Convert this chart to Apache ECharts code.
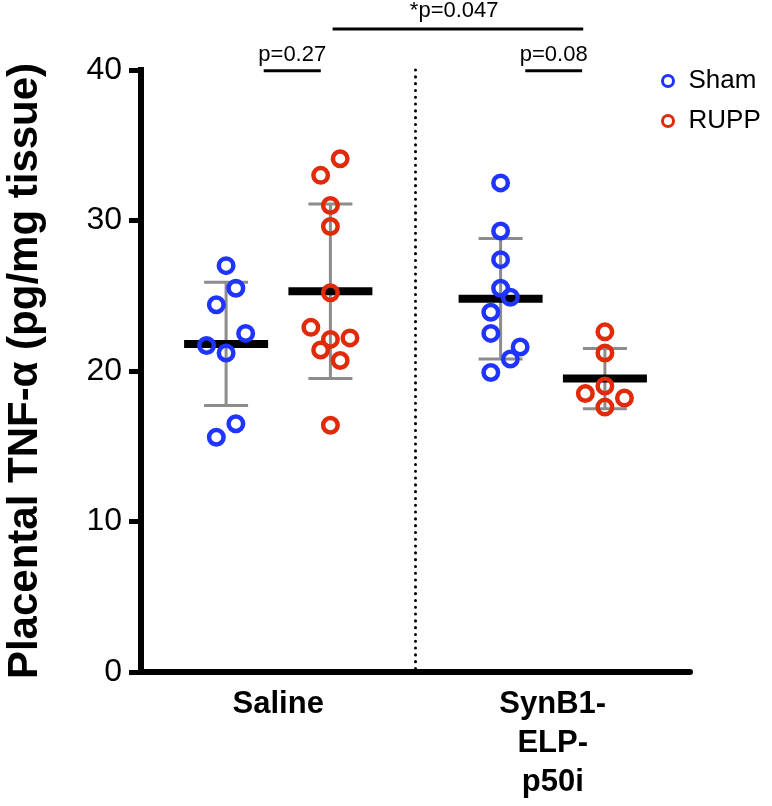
<!DOCTYPE html>
<html>
<head>
<meta charset="utf-8">
<script src="https://cdn.jsdelivr.net/npm/echarts@6/dist/echarts.min.js"></script>
<style>html,body{margin:0;padding:0;background:#fff}#c{width:772px;height:806px}</style>
</head>
<body>
<div id="c"></div>
<script>
// ---------- data ----------
const categories = ['Saline', 'SynB1-\nELP-\np50i'];
const groupNames = ['Sham', 'RUPP'];

const shamSaline = [27.0, 25.5, 24.4, 22.5, 21.7, 21.2, 16.5, 15.6];
const ruppSaline = [34.1, 33.0, 31.0, 29.6, 25.2, 22.9, 22.2, 22.1, 21.4, 20.7, 16.4];
const shamSynB1 = [32.5, 29.3, 27.4, 25.5, 24.9, 23.9, 22.5, 21.6, 20.8, 19.9];
const ruppSynB1 = [22.6, 21.2, 19.0, 18.5, 18.2, 17.6];

// horizontal scatter column of each point
const shamSalineCol = [0, 1, -1, 2, -2, 0, 1, -1];
const ruppSalineCol = [1, -1, 0, 0, 0, -2, 2, 0, -1, 1, 0];
const shamSynB1Col = [0, 0, 0, 0, 1, -1, -1, 2, 1, -1];
const ruppSynB1Col = [0, 0, 0, -2, 2, 0];

// mean and mean ± SD per category
const shamMean = [21.8, 24.8];
const shamSdLow = [17.7, 20.8];
const shamSdHigh = [25.9, 28.8];
const ruppMean = [25.3, 19.5];
const ruppSdLow = [19.5, 17.5];
const ruppSdHigh = [31.1, 21.5];

const yTicks = [0, 10, 20, 30, 40];
const pTexts = ['p=0.27', 'p=0.08', '*p=0.047'];
const yName = 'Placental TNF-α (pg/mg tissue)';

// ---------- layout / style ----------
const FONT = '"Liberation Sans", Arial, Helvetica, sans-serif';
const BLUE = '#1f35ff';
const RED = '#e12a0a';
const dodge = 0.19;      // half distance between Sham and RUPP within a category
const colStep = 0.0356;  // width of one scatter column

function pts(values, cols, cat, side) {
  return values.map((v, i) => [cat + 0.5 + side * dodge + cols[i] * colStep, v]);
}
const shamData = pts(shamSaline, shamSalineCol, 0, -1).concat(pts(shamSynB1, shamSynB1Col, 1, -1));
const ruppData = pts(ruppSaline, ruppSalineCol, 0, 1).concat(pts(ruppSynB1, ruppSynB1Col, 1, 1));

const statData = [];
categories.forEach((c, i) => {
  statData.push([i + 0.5 - dodge, shamMean[i], shamSdLow[i], shamSdHigh[i]]);
  statData.push([i + 0.5 + dodge, ruppMean[i], ruppSdLow[i], ruppSdHigh[i]]);
});

const chart = echarts.init(document.getElementById('c'), null, {renderer: 'canvas'});

const option = {
  animation: false,
  backgroundColor: '#fff',
  textStyle: {fontFamily: FONT},
  grid: {left: 141, right: 82, top: 70, bottom: 134, containLabel: false, outerBoundsMode: 'none'},
  legend: {
    orient: 'vertical',
    left: 656,
    top: 63,
    itemGap: 14,
    itemWidth: 11,
    itemHeight: 11,
    icon: 'circle',
    textStyle: {fontSize: 26, color: '#000', fontFamily: FONT, padding: [0, 0, 0, 10]},
    data: [
      {name: 'Sham', itemStyle: {color: 'rgba(0,0,0,0)', borderColor: BLUE, borderWidth: 3}},
      {name: 'RUPP', itemStyle: {color: 'rgba(0,0,0,0)', borderColor: RED, borderWidth: 3}}
    ]
  },
  xAxis: [
    {
      type: 'category',
      data: categories,
      boundaryGap: true,
      axisLine: {lineStyle: {color: '#000', width: 6}},
      axisTick: {show: false},
      axisLabel: {
        color: '#000', fontSize: 31, fontWeight: 'bold', fontFamily: FONT,
        lineHeight: 39, margin: 13, interval: 0
      },
      splitLine: {show: false}
    },
    {
      type: 'value', min: 0, max: 2, show: false, position: 'bottom'
    }
  ],
  yAxis: {
    type: 'value',
    min: yTicks[0],
    max: yTicks[yTicks.length - 1],
    interval: 10,
    name: yName,
    nameLocation: 'middle',
    nameGap: 95,
    nameTextStyle: {fontSize: 42, fontWeight: 'bold', color: '#000', fontFamily: FONT},
    axisLine: {show: true, lineStyle: {color: '#000', width: 6, cap: 'square'}},
    axisTick: {show: true, length: 12, lineStyle: {color: '#000', width: 5}},
    axisLabel: {color: '#000', fontSize: 32, margin: 19, fontFamily: FONT},
    splitLine: {show: false}
  },
  series: [
    {
      type: 'custom',
      name: 'stats',
      xAxisIndex: 1,
      yAxisIndex: 0,
      z: 1,
      clip: false,
      silent: true,
      data: statData,
      encode: {x: 0, y: [1, 2, 3]},
      renderItem: function (params, api) {
        const x = api.value(0);
        const pm = api.coord([x, api.value(1)]);
        const pl = api.coord([x, api.value(2)]);
        const ph = api.coord([x, api.value(3)]);
        const gray = {stroke: '#8c8c8c', lineWidth: 3};
        return {
          type: 'group',
          children: [
            {type: 'line', shape: {x1: pl[0], y1: pl[1], x2: ph[0], y2: ph[1]}, style: gray},
            {type: 'line', shape: {x1: pl[0] - 22, y1: pl[1], x2: pl[0] + 22, y2: pl[1]}, style: gray},
            {type: 'line', shape: {x1: ph[0] - 22, y1: ph[1], x2: ph[0] + 22, y2: ph[1]}, style: gray},
            {type: 'line', shape: {x1: pm[0] - 42, y1: pm[1], x2: pm[0] + 42, y2: pm[1]}, style: {stroke: '#000', lineWidth: 8}}
          ]
        };
      }
    },
    {
      type: 'scatter',
      name: groupNames[0],
      xAxisIndex: 1,
      yAxisIndex: 0,
      z: 3,
      symbol: 'circle',
      symbolSize: 14.5,
      itemStyle: {color: 'rgba(0,0,0,0)', borderColor: BLUE, borderWidth: 4.5, opacity: 1},
      data: shamData
    },
    {
      type: 'scatter',
      name: groupNames[1],
      xAxisIndex: 1,
      yAxisIndex: 0,
      z: 3,
      symbol: 'circle',
      symbolSize: 14.5,
      itemStyle: {color: 'rgba(0,0,0,0)', borderColor: RED, borderWidth: 4.5, opacity: 1},
      data: ruppData
    }
  ]
};
chart.setOption(option);

// ---------- annotations positioned through the axes ----------
const toPx = (x, y) => chart.convertToPixel({xAxisIndex: 1, yAxisIndex: 0}, [x, y]);
const brackets = [
  {text: pTexts[0], x1: 0.447, x2: 0.655, yLine: 39.95, yText: 41.0},
  {text: pTexts[1], x1: 1.40, x2: 1.607, yLine: 39.95, yText: 41.0},
  {text: pTexts[2], x1: 0.698, x2: 1.611, yLine: 42.73, yText: 43.9, tx: 1.141}
];
const graphics = [];
brackets.forEach(b => {
  const a = toPx(b.x1, b.yLine), c = toPx(b.x2, b.yLine);
  graphics.push({type: 'line', shape: {x1: a[0], y1: a[1], x2: c[0], y2: c[1]},
    style: {stroke: '#000', lineWidth: 3}, silent: true});
  const t = toPx(b.tx !== undefined ? b.tx : (b.x1 + b.x2) / 2, b.yText);
  graphics.push({type: 'text', x: t[0], y: t[1], silent: true,
    style: {text: b.text, fill: '#000', font: '22px ' + FONT, textAlign: 'center', textVerticalAlign: 'middle'}});
});
const d1 = toPx(1, 40), d2 = toPx(1, 0);
graphics.push({type: 'line', shape: {x1: d1[0], y1: d1[1], x2: d2[0], y2: d2[1]},
  style: {stroke: '#000', lineWidth: 3, lineDash: [0.1, 6.7], lineCap: 'round'}, silent: true, z: 0});
chart.setOption({graphic: graphics});
</script>
</body>
</html>
